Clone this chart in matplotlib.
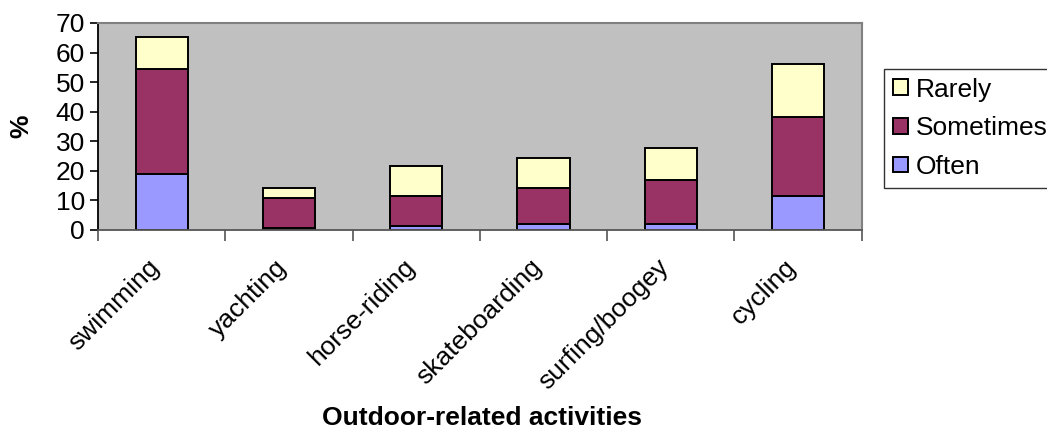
import numpy as np
import matplotlib.pyplot as plt
import matplotlib.transforms as mtransforms

activities = ["swimming", "yachting", "horse-riding", "skateboarding", "surfing/boogey", "cycling"]
often = [18.8, 0.6, 1.3, 2.0, 2.0, 11.5]
sometimes = [35.6, 10.1, 10.2, 12.1, 14.8, 26.8]
rarely = [11.0, 3.5, 10.1, 10.1, 11.0, 17.7]

plt.rcParams["font.family"] = ["Liberation Sans", "DejaVu Sans"]

fig = plt.figure(figsize=(10.47, 4.32), dpi=100)
ax = fig.add_axes([0.0936, 0.4676, 0.7294, 0.4792])
ax.set_facecolor("#c0c0c0")

x = np.arange(len(activities))
w = 0.41
kw = dict(width=w, edgecolor="black", linewidth=1.4)
b1 = ax.bar(x, often, color="#9999ff", label="Often", **kw)
b2 = ax.bar(x, sometimes, bottom=often, color="#993366", label="Sometimes", **kw)
bot = np.array(often) + np.array(sometimes)
b3 = ax.bar(x, rarely, bottom=bot, color="#ffffcc", label="Rarely", **kw)

ax.set_xlim(-0.5, len(activities) - 0.5)
ax.set_ylim(0, 70)
ax.set_yticks(range(0, 71, 10))
ax.tick_params(axis="y", labelsize=19, length=6, width=1.2)
ax.set_xticks(x)
ax.set_xticklabels(activities, rotation=45, ha="right", rotation_mode="anchor", fontsize=19)
ax.tick_params(axis="x", length=0, pad=18)
# nudge the rotated labels left so their ends sit under the bars like the original
offset = mtransforms.ScaledTranslation(-0.14, 0, fig.dpi_scale_trans)
for lab in ax.get_xticklabels():
    lab.set_transform(lab.get_transform() + offset)
ax.set_xticks(np.arange(-0.5, len(activities)), minor=True)
ax.tick_params(axis="x", which="minor", length=8, width=1.2, color="#555555")

ax.spines["left"].set_color("black")
ax.spines["left"].set_linewidth(1.3)
ax.spines["bottom"].set_color("#555555")
ax.spines["bottom"].set_linewidth(1.3)
ax.spines["top"].set_color("#808080")
ax.spines["top"].set_linewidth(1.5)
ax.spines["right"].set_color("#808080")
ax.spines["right"].set_linewidth(1.5)

ax.set_ylabel("%", fontsize=19, fontweight="bold", labelpad=16)
fig.text(0.4604, 0.016, "Outdoor-related activities", fontsize=19, fontweight="bold",
         ha="center", va="baseline")

leg = ax.legend(handles=[b3, b2, b1], loc="upper left", bbox_to_anchor=(1.029, 0.78),
                fontsize=19, frameon=True, fancybox=False, edgecolor="black",
                handlelength=0.55, handleheight=0.55, handletextpad=0.3,
                labelspacing=0.55, borderpad=0.35, borderaxespad=0)
leg.get_frame().set_linewidth(1.0)

fig.savefig("out.png", dpi=100)
